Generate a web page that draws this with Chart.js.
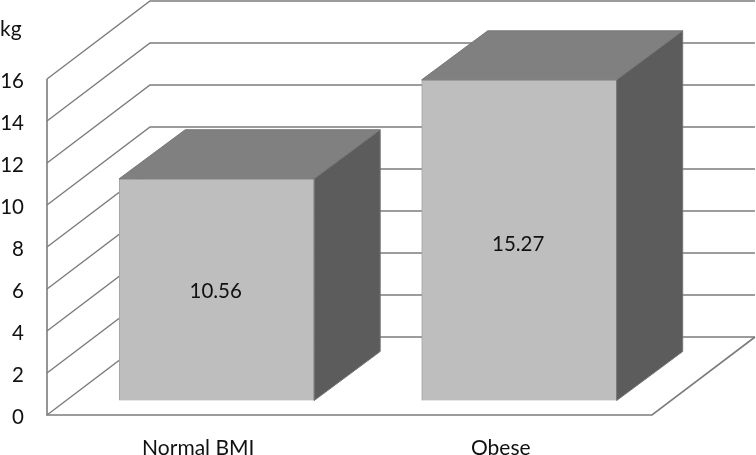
<!DOCTYPE html>
<html>
<head>
<meta charset="utf-8">
<title>kg by BMI group</title>
<script src="https://cdn.jsdelivr.net/npm/chart.js@4"></script>
<style>
  html, body { margin: 0; padding: 0; background: #fff; }
  canvas { display: block; }
</style>
</head>
<body>
<canvas id="chart" width="756" height="455"></canvas>
<script>
// Data
const categories = ["Normal BMI", "Obese"];
const barValues = [10.56, 15.27];
const barPositions = [0, 1];
const yTicks = [0, 2, 4, 6, 8, 10, 12, 14, 16];
const unitLabel = "kg";

// Fake 3D look: how far the wall sits behind the axis, and how deep a bar is
const WALL_DX = 103, WALL_DY = -78;
const BAR_DX = 66, BAR_DY = -49;
const FONT = "Lato, 'Open Sans', sans-serif";

// ─── Walls and floor, drawn under the bars ────────────────────────────────────
const wallPlugin = {
  id: "wall",
  beforeDatasetsDraw(chart) {
    const { ctx, scales } = chart;
    const left = scales.x.left, right = scales.x.right;
    const y0 = scales.y.getPixelForValue(0);
    const yTop = scales.y.getPixelForValue(yTicks[yTicks.length - 1]);

    ctx.save();
    ctx.strokeStyle = "#7c7c7c";
    ctx.lineWidth = 1.4;
    yTicks.forEach(t => {
      const y = scales.y.getPixelForValue(t);
      ctx.beginPath();
      ctx.moveTo(left, y);
      ctx.lineTo(left + WALL_DX, y + WALL_DY);
      ctx.lineTo(right + WALL_DX, y + WALL_DY);
      ctx.stroke();
    });
    // axis and floor edges
    ctx.lineWidth = 1.6;
    ctx.beginPath();
    ctx.moveTo(left, yTop);
    ctx.lineTo(left, y0);
    ctx.lineTo(right, y0);
    ctx.lineTo(right + WALL_DX, y0 + WALL_DY);
    ctx.stroke();

    // y labels sit a bit below their gridline, which the tick options can't do
    ctx.fillStyle = "#111";
    ctx.textAlign = "right";
    ctx.textBaseline = "middle";
    ctx.font = `20.5px ${FONT}`;
    yTicks.forEach(t => {
      ctx.fillText(String(t), 24, scales.y.getPixelForValue(t) + 2.5);
    });
    ctx.restore();
  }
};

// ─── Bar depth, value labels and unit label ───────────────────────────────────
const depthPlugin = {
  id: "depth",
  afterDatasetsDraw(chart) {
    const { ctx } = chart;
    const bars = chart.getDatasetMeta(0).data;

    ctx.save();
    bars.forEach(bar => {
      const l = bar.x - bar.width / 2, r = bar.x + bar.width / 2;
      const t = bar.y, b = bar.base;

      ctx.strokeStyle = "#767676";
      ctx.lineWidth = 1;

      // top face
      ctx.fillStyle = "#808080";
      ctx.beginPath();
      ctx.moveTo(l, t);
      ctx.lineTo(l + BAR_DX, t + BAR_DY);
      ctx.lineTo(r + BAR_DX, t + BAR_DY);
      ctx.lineTo(r, t);
      ctx.closePath();
      ctx.fill();
      ctx.stroke();

      // side face
      ctx.fillStyle = "#5c5c5c";
      ctx.beginPath();
      ctx.moveTo(r, t);
      ctx.lineTo(r + BAR_DX, t + BAR_DY);
      ctx.lineTo(r + BAR_DX, b + BAR_DY);
      ctx.lineTo(r, b);
      ctx.closePath();
      ctx.fill();
      ctx.stroke();
    });

    ctx.fillStyle = "#111";
    ctx.textAlign = "center";
    ctx.textBaseline = "middle";
    ctx.font = `20.5px ${FONT}`;
    bars.forEach((bar, i) => {
      ctx.fillText(barValues[i].toFixed(2), bar.x - 1, (bar.y + bar.base) / 2 + 2 + i * 2);
    });

    ctx.textAlign = "left";
    ctx.textBaseline = "alphabetic";
    ctx.font = `21px ${FONT}`;
    ctx.fillText(unitLabel, 0, 36);
    ctx.restore();
  }
};

// ─── Chart ────────────────────────────────────────────────────────────────────
new Chart(document.getElementById("chart"), {
  type: "bar",
  data: {
    labels: categories,
    datasets: [{
      data: barValues.map((v, i) => ({ x: barPositions[i], y: v })),
      xAxisID: "xBar",
      yAxisID: "yBar",
      backgroundColor: "#bebebe",
      borderColor: "#a2a2a2",
      borderWidth: 1,
      barThickness: 195
    }]
  },
  options: {
    responsive: false,
    animation: false,
    layout: { padding: { top: 79, right: 104, left: 0, bottom: 0 } },
    plugins: { legend: { display: false }, tooltip: { enabled: false } },
    scales: {
      x: {
        type: "category",
        offset: true,
        grid: { display: false },
        border: { display: false },
        ticks: { color: "#111", font: { family: FONT, size: 21 }, padding: 13 },
        afterFit(scale) { scale.height = 40; }
      },
      y: {
        type: "linear",
        min: 0,
        max: 16,
        grid: { display: false, drawTicks: false },
        border: { display: false },
        ticks: { display: false, stepSize: 2 },
        afterFit(scale) { scale.width = 47; }
      },
      // bars stand on the floor, a little behind the front edge of it
      xBar: { type: "linear", axis: "x", display: false, offset: false, min: -0.561, max: 1.439 },
      yBar: { type: "linear", axis: "y", display: false, min: -0.69, max: 15.31 }
    }
  },
  plugins: [wallPlugin, depthPlugin]
});
</script>
</body>
</html>
